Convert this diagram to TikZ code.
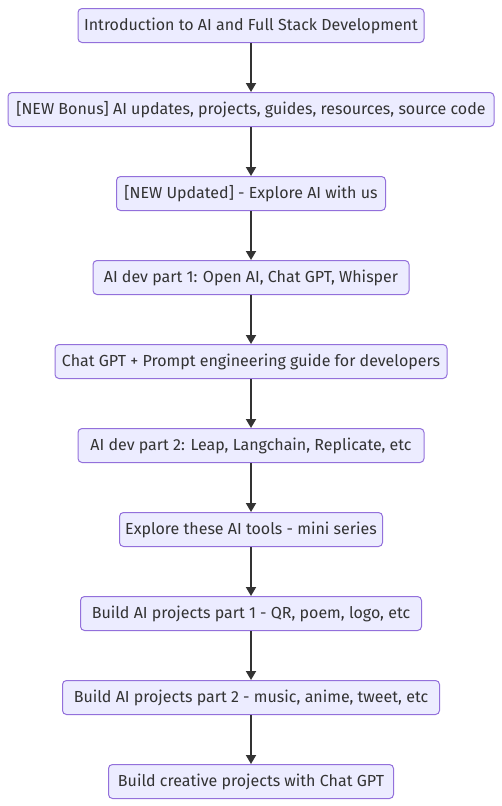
\documentclass[tikz,border=0pt]{standalone}
\usepackage{fontspec}
\setmainfont{Fira Sans}
\usetikzlibrary{arrows.meta}
\definecolor{boxfill}{HTML}{ECECFF}
\definecolor{boxline}{HTML}{9370DB}
\definecolor{linkcol}{HTML}{333333}
\tikzstyle{langkah} = [draw=boxline, fill=boxfill, rounded corners=4pt, line width=1pt,
  minimum height=34pt, inner sep=0pt, text=linkcol, font=\fontsize{16}{19}\selectfont]
\tikzstyle{arrow} = [line width=1.8pt, draw=linkcol, -{Triangle[width=10pt,length=9pt]}]

\begin{document}
\begin{tikzpicture}[x=1pt,y=-1pt]
  \useasboundingbox (0,0) rectangle (502,806);

  % Kotak-kotak materi
  \foreach \i/\w/\t in {1/346/{Introduction to AI and Full Stack Development},
      2/486/{[NEW Bonus] AI updates, projects, guides, resources, source code},
      3/269/{[NEW Updated] - Explore AI with us},
      4/316/{AI dev part 1: Open AI, Chat GPT, Whisper},
      5/392/{Chat GPT + Prompt engineering guide for developers},
      6/346/{AI dev part 2: Leap, Langchain, Replicate, etc},
      7/263/{Explore these AI tools - mini series},
      8/341/{Build AI projects part 1 - QR, poem, logo, etc},
      9/377/{Build AI projects part 2 - music, anime, tweet, etc},
      10/285/{Build creative projects with Chat GPT}} {
    \node[langkah, minimum width=\w pt] (n\i) at (251,{25.5+84*(\i-1)}) {\t};
  }

  % Panah antar kotak
  \foreach \i [evaluate=\i as \j using int(\i+1)] in {1,...,9} {
    \draw[arrow] (n\i) -- (n\j);
  }
\end{tikzpicture}
\end{document}
